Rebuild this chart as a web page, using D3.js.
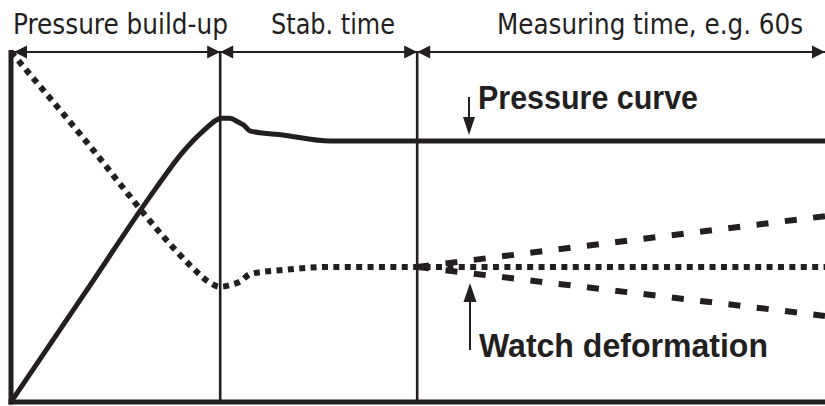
<!DOCTYPE html>
<html>
<head>
<meta charset="utf-8">
<script src="https://cdn.jsdelivr.net/npm/d3@7"></script>
<style>
  html, body { margin: 0; padding: 0; background: #fff; }
  svg { display: block; }
</style>
</head>
<body>
<svg id="chart" width="825" height="406"></svg>
<script>
// Test phases (time in relative units, 0..100)
const phaseBounds = [0, 25.7, 49.9, 100];
const phaseLabels = ["Pressure build-up", "Stab. time", "Measuring time, e.g. 60s"];

// Pressure curve: rise, slight overshoot, settle to a constant level
const pressureT = [0, 9, 17.9, 21.0, 23.6, 25.9, 26.9, 27.9, 28.6, 29.4, 33.4, 39.2, 100];
const pressureV = [0, 30.9, 61.4, 71.1, 77.4, 81.1, 81.1, 80.0, 79.1, 77.4, 76.3, 74.6, 74.6];

// Deformation of the watch case: falls during build-up, then levels off
const deformT = [0, 9, 18.55, 20.4, 22.2, 24.3, 25.7, 26.9, 28.3, 29.4, 33.4, 39.2, 49.9, 100];
const deformV = [100, 75.1, 47.7, 42.9, 38.6, 34.3, 32.9, 33.4, 34.6, 36.6, 37.7, 38.6, 38.6, 38.6];

// Possible drift of the deformation during the measuring time
const driftT = [49.9, 100];
const driftUpper = [38.6, 53.1];
const driftLower = [38.6, 24.6];

const ink = "#231f20";
const svg = d3.select("#chart");

const x = d3.scaleLinear().domain([0, 100]).range([11, 825]);
const y = d3.scaleLinear().domain([0, 100]).range([402, 52]);

const line = d3.line()
  .x(d => x(d[0]))
  .y(d => y(d[1]))
  .curve(d3.curveMonotoneX);
const straight = d3.line().x(d => x(d[0])).y(d => y(d[1]));

const zip = (a, b) => a.map((v, i) => [v, b[i]]);

// Triangle arrowhead with its tip at (tx, ty), pointing in direction dir
function arrowHead(g, tx, ty, dir, len, half) {
  const pts = {
    left:  [[tx, ty], [tx + len, ty - half], [tx + len, ty + half]],
    right: [[tx, ty], [tx - len, ty - half], [tx - len, ty + half]],
    down:  [[tx, ty], [tx - half, ty - len], [tx + half, ty - len]],
    up:    [[tx, ty], [tx - half, ty + len], [tx + half, ty + len]]
  }[dir];
  g.append("path").attr("d", "M" + pts.map(p => p.join(",")).join("L") + "Z").attr("fill", ink);
}

// Phase divider lines
const topY = y(100);
svg.selectAll("line.divider")
  .data(phaseBounds.slice(1, -1))
  .join("line")
  .attr("class", "divider")
  .attr("x1", d => x(d)).attr("x2", d => x(d))
  .attr("y1", topY).attr("y2", y(0))
  .attr("stroke", ink).attr("stroke-width", 2.6);

// Phase span arrows along the top
const spans = svg.append("g");
spans.append("line")
  .attr("x1", x(0)).attr("x2", x(100))
  .attr("y1", topY).attr("y2", topY)
  .attr("stroke", ink).attr("stroke-width", 2);
phaseBounds.slice(0, -1).forEach((b, i) => {
  const e = phaseBounds[i + 1];
  arrowHead(spans, x(b) + (i === 0 ? 3 : 0), topY, "left", 13, 6.5);
  arrowHead(spans, x(e), topY, "right", 13, 6.5);
});

// Phase labels
const labelStart = [13, 271, 497];
const labelWidth = [215, 124, 306];
svg.selectAll("text.phase")
  .data(phaseLabels)
  .join("text")
  .attr("class", "phase")
  .attr("x", (d, i) => labelStart[i])
  .attr("y", 34)
  .attr("textLength", (d, i) => labelWidth[i])
  .attr("lengthAdjust", "spacingAndGlyphs")
  .attr("font-family", "'Liberation Sans Narrow', 'DejaVu Sans Condensed', sans-serif")
  .attr("font-size", 28)
  .attr("fill", ink)
  .text(d => d);

// Drift band (dashed)
[driftUpper, driftLower].forEach(v => {
  svg.append("path")
    .attr("d", straight(zip(driftT, v)))
    .attr("fill", "none").attr("stroke", ink)
    .attr("stroke-width", 6)
    .attr("stroke-dasharray", "12,16.5");
});

// Deformation (dotted)
svg.append("path")
  .attr("d", line(zip(deformT, deformV)))
  .attr("fill", "none").attr("stroke", ink)
  .attr("stroke-width", 6)
  .attr("stroke-dasharray", "6,5.4");

// Pressure (solid)
svg.append("path")
  .attr("d", line(zip(pressureT, pressureV)))
  .attr("fill", "none").attr("stroke", ink)
  .attr("stroke-width", 5)
  .attr("stroke-linejoin", "round");

// Axes
svg.append("line")
  .attr("x1", x(0)).attr("x2", x(0))
  .attr("y1", topY - 2).attr("y2", y(0) + 2.5)
  .attr("stroke", ink).attr("stroke-width", 5);
svg.append("line")
  .attr("x1", x(0) - 2.5).attr("x2", x(100))
  .attr("y1", y(0)).attr("y2", y(0))
  .attr("stroke", ink).attr("stroke-width", 5);

// Callouts
const bold = "'Liberation Sans Narrow', 'Liberation Sans', sans-serif";
const pc = svg.append("g");
pc.append("line").attr("x1", 469).attr("x2", 469).attr("y1", 97).attr("y2", 122)
  .attr("stroke", ink).attr("stroke-width", 2);
arrowHead(pc, 469, y(pressureV[pressureV.length - 1]) - 6, "down", 18, 6);
pc.append("text").attr("x", 478).attr("y", 109)
  .attr("textLength", 220).attr("lengthAdjust", "spacingAndGlyphs")
  .attr("font-family", bold).attr("font-weight", "bold").attr("font-size", 33)
  .attr("fill", ink).text("Pressure curve");

const wd = svg.append("g");
wd.append("line").attr("x1", 470).attr("x2", 470).attr("y1", 350).attr("y2", 296)
  .attr("stroke", ink).attr("stroke-width", 2);
arrowHead(wd, 470, 283, "up", 19, 6.5);
wd.append("text").attr("x", 479).attr("y", 357)
  .attr("textLength", 289).attr("lengthAdjust", "spacingAndGlyphs")
  .attr("font-family", bold).attr("font-weight", "bold").attr("font-size", 33)
  .attr("fill", ink).text("Watch deformation");
</script>
</body>
</html>
